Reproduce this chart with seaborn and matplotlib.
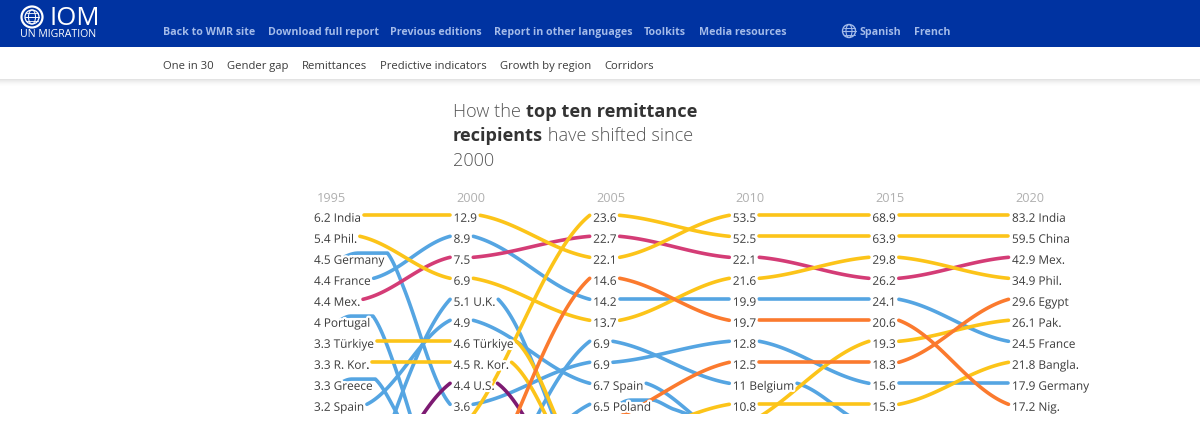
import numpy as np
import pandas as pd
import matplotlib
matplotlib.use('Agg')
import matplotlib.pyplot as plt
import matplotlib.patheffects as pe
from matplotlib.patches import Circle, Ellipse, Rectangle
import seaborn as sns

years = [1995, 2000, 2005, 2010, 2015, 2020]

labels_1995 = ['6.2 India', '5.4 Phil.', '4.5 Germany', '4.4 France', '4.4 Mex.',
               '4 Portugal', '3.3 Türkiye', '3.3 R. Kor.', '3.3 Greece', '3.2 Spain']
labels_2000 = ['12.9', '8.9', '7.5', '6.9', '5.1 U.K.', '4.9', '4.6 Türkiye',
               '4.5 R. Kor.', '4.4 U.S.', '3.6']
labels_2005 = ['23.6', '22.7', '22.1', '14.6', '14.2', '13.7', '6.9', '6.9',
               '6.7 Spain', '6.5 Poland']
labels_2010 = ['53.5', '52.5', '22.1', '21.6', '19.9', '19.7', '12.8', '12.5',
               '11 Belgium', '10.8']
labels_2015 = ['68.9', '63.9', '29.8', '26.2', '24.1', '20.6', '19.3', '18.3',
               '15.6', '15.3']
labels_2020 = ['83.2 India', '59.5 China', '42.9 Mex.', '34.9 Phil.', '29.6 Egypt',
               '26.1 Pak.', '24.5 France', '21.8 Bangla.', '17.9 Germany', '17.2 Nig.']
column_labels = [labels_1995, labels_2000, labels_2005, labels_2010, labels_2015, labels_2020]

# labels whose line shows as a thin arc over the letters
arc_labels = ['4.5 Germany', '4 Portugal', '3.3 Greece', '6.5 Poland']

nan = float('nan')
# rank of each country per year, anything over 10 is below the fold (estimated)
rank_portugal = [6, 15.4, nan, nan, nan, nan]
rank_greece = [9, 15, nan, nan, nan, nan]
rank_uk = [19.2, 5, 13.8, nan, nan, nan]
rank_spain = [10, 6, 9, 11.6, nan, nan]
rank_germany = [3, 10, 8, 7, 9, 9]
rank_france = [4, 2, 5, 5, 5, 7]
rank_belgium = [nan, 17, 7, 9, 11, nan]
rank_poland = [nan, 16.4, 10, 11.1, nan, nan]
rank_us = [19.1, 9, 15.6, nan, nan, nan]
rank_mexico = [5, 3, 2, 3, 4, 3]
rank_india = [1, 1, 3, 1, 1, 1]
rank_china = [nan, 11.5, 1, 2, 2, 2]
rank_phil = [2, 4, 6, 4, 3, 4]
rank_turkiye = [7, 7, 13.5, nan, nan, nan]
rank_korea = [8, 8, 14, nan, nan, nan]
rank_bangla = [nan, nan, 12.2, 10, 10, 8]
rank_pak = [nan, nan, nan, 11.2, 7, 6]
rank_nigeria = [nan, 15.9, 4, 6, 6, 10]
rank_egypt = [nan, nan, 11, 8, 8, 5]

BLUE = '#55a5e2'
YELLOW = '#fcc419'
PINK = '#d43c76'
ORANGE = '#fb7a2e'
PURPLE = '#7d1a72'

# draw order: later ones sit on top
series = [
    (rank_portugal, BLUE), (rank_greece, BLUE), (rank_uk, BLUE), (rank_spain, BLUE),
    (rank_germany, BLUE), (rank_france, BLUE), (rank_belgium, BLUE), (rank_poland, BLUE),
    (rank_us, PURPLE), (rank_mexico, PINK),
    (rank_india, YELLOW), (rank_china, YELLOW), (rank_phil, YELLOW), (rank_turkiye, YELLOW),
    (rank_korea, YELLOW), (rank_bangla, YELLOW), (rank_pak, YELLOW),
    (rank_nigeria, ORANGE), (rank_egypt, ORANGE),
]

FONT = 'Open Sans'
LABEL_SIZE = 8.5

sns.set_style('white')
plt.rcParams['font.family'] = [FONT, 'DejaVu Sans']

fig = plt.figure(figsize=(12, 4.31), dpi=100)

# page furniture, drawn in pixel coordinates
page = fig.add_axes([0, 0, 1, 1], zorder=0)
page.set_xlim(0, 1200)
page.set_ylim(431, 0)
page.axis('off')

page.add_patch(Rectangle((0, 0), 1200, 48, color='#0033a1', lw=0))
for i in range(8):
    page.add_patch(Rectangle((0, 80 + i), 1200, 1, color='#000000', alpha=0.11 * (1 - i / 8) ** 2, lw=0))

top_nav = [('Back to WMR site', 163), ('Download full report', 268), ('Previous editions', 390),
           ('Report in other languages', 494), ('Toolkits', 644), ('Media resources', 699),
           ('Spanish', 859), ('French', 914)]
for name, x in top_nav:
    page.text(x, 35, name, color='#a4bbe9', fontsize=7.7, fontweight='bold', va='baseline')

sub_nav = [('One in 30', 163), ('Gender gap', 227), ('Remittances', 302),
           ('Predictive indicators', 380), ('Growth by region', 500), ('Corridors', 604)]
for name, x in sub_nav:
    page.text(x, 69, name, color='#3c3c3c', fontsize=8.1, va='baseline')

# language globe
page.add_patch(Circle((849, 32), 6.5, fill=False, ec='#a4bbe9', lw=1))
page.add_patch(Ellipse((849, 32), 6, 13, fill=False, ec='#a4bbe9', lw=0.8))
page.plot([842.5, 855.5], [32, 32], color='#a4bbe9', lw=0.8)
page.plot([843.5, 854.5], [28.5, 28.5], color='#a4bbe9', lw=0.7)
page.plot([843.5, 854.5], [35.5, 35.5], color='#a4bbe9', lw=0.7)

# IOM logo
page.add_patch(Circle((32, 18), 10.5, fill=False, ec='white', lw=1.6))
page.add_patch(Circle((32, 18), 7, fill=False, ec='white', lw=0.9))
page.add_patch(Ellipse((32, 18), 7, 14, fill=False, ec='white', lw=0.7))
page.plot([25, 39], [18, 18], color='white', lw=0.7)
page.plot([26, 38], [14, 14], color='white', lw=0.6)
page.plot([26, 38], [22, 22], color='white', lw=0.6)
page.text(49, 25, 'IOM', color='white', fontsize=18.5, va='baseline')
page.text(20, 37, 'UN MIGRATION', color='white', fontsize=7.6, va='baseline')

# title: bold and light runs laid out one after the other
renderer = fig.canvas.get_renderer()
title_lines = [(117, [('How the ', 'light', '#555555'), ('top ten remittance', 'bold', '#333333')]),
               (141.5, [('recipients', 'bold', '#333333'), (' have shifted since', 'light', '#555555')]),
               (166, [('2000', 'light', '#555555')])]
for y, runs in title_lines:
    x = 453
    for run, weight, color in runs:
        t = page.text(x, y, run.replace(' ', '\u00a0'), fontsize=13.1, fontweight=weight, color=color, va='baseline')
        x = page.transData.inverted().transform(t.get_window_extent(renderer).max)[0]

# chart: x is year, y is rank, clipped where the reference stops at the fold
ax = fig.add_axes([300 / 1200, 1 - 415 / 431, 810 / 1200, 235 / 431], zorder=1)
ax.patch.set_alpha(0)
ROW_PX = 21
COL_PX = 139.6 / 5
TOP_ROW = 216.3
x_lo, x_hi = 1995 - 14 / COL_PX, 1995 + 796 / COL_PX
y_top = 1 + (180 - TOP_ROW) / ROW_PX
y_bot = 1 + (415 - TOP_ROW) / ROW_PX
ax.set_xlim(x_lo, x_hi)
ax.set_ylim(y_bot, y_top)
ax.axis('off')

halo = [pe.withStroke(linewidth=3.2, foreground='white')]
label_end = {}
for year, labels in zip(years, column_labels):
    ax.text(year + 3 / COL_PX, 1 + (201.5 - TOP_ROW) / ROW_PX, str(year), color='#b0b0b0', fontsize=9.2,
            va='baseline', clip_on=False, zorder=5)
    for i, label in enumerate(labels):
        t = ax.text(year, i + 1.31, label, color='#3a3a3a', fontsize=LABEL_SIZE, va='baseline',
                    zorder=5, path_effects=halo)
        right = ax.transData.inverted().transform(t.get_window_extent(renderer).max)[0]
        label_end[(year, i + 1)] = right


def ease(t):
    # between a straight line and a full S, as the reference's curves are
    return 0.5 * t + 0.5 * (1 - np.cos(np.pi * t)) / 2


LIFT = 0.2
rows = []
colors = {}
seg = 0
for ranks, color in series:
    for k in range(5):
        r0, r1 = ranks[k], ranks[k + 1]
        if np.isnan(r0) or np.isnan(r1):
            continue
        y0, y1 = years[k], years[k + 1]
        if r0 <= 10:
            start = label_end[(y0, int(r0))] + 3 / COL_PX
        else:
            start = y0
        end = y1 - 3.5 / COL_PX
        t = np.linspace(0, 1, 80)
        xs = start + (end - start) * t
        ys = r0 + (r1 - r0) * ease(t)
        if r0 <= 10 and column_labels[k][int(r0) - 1] in arc_labels:
            width = (start - y0) * COL_PX
            hook_len = min(44, width - 26) / COL_PX
            ys = ys - LIFT * (1 - ease(np.clip(t * 4, 0, 1)))
            u = np.linspace(0, 1, 20)
            hook_x = start - hook_len + hook_len * u
            hook_y = r0 - LIFT * np.sin(np.pi / 2 * np.clip(u * 3, 0, 1))
            xs = np.concatenate([hook_x, xs])
            ys = np.concatenate([hook_y, ys])
        name = f'seg{seg}'
        colors[name] = color
        rows.append(pd.DataFrame({'x': xs, 'y': ys, 'segment': name}))
        seg += 1

curves = pd.concat(rows, ignore_index=True)
sns.lineplot(data=curves, x='x', y='y', hue='segment', palette=colors, hue_order=list(colors),
             estimator=None, sort=False, legend=False, linewidth=2.6, ax=ax, zorder=2,
             solid_capstyle='round')
ax.set_xlim(x_lo, x_hi)
ax.set_ylim(y_bot, y_top)
ax.axis('off')

fig.savefig('out.png', dpi=100)
